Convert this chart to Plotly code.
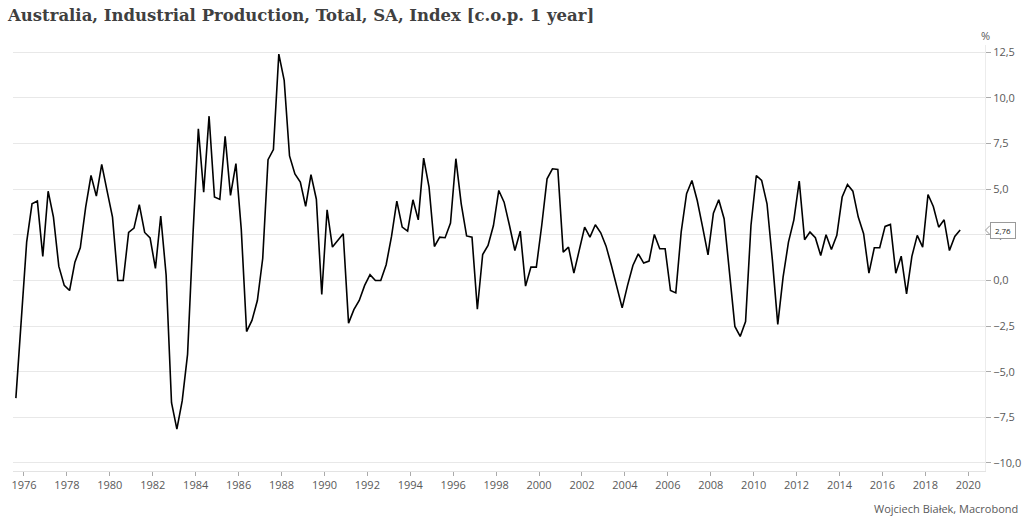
import pandas as pd
import plotly.graph_objects as go

# Quarterly series, first quarter 1975Q3, last 2019Q3 (y/y % change)
start_quarter = "1975Q3"
end_quarter = "2019Q3"

vals_1975_1984 = [-6.45, -2.2,
                  2.10, 4.20, 4.35, 1.32,
                  4.89, 3.47, 0.77, -0.27,
                  -0.55, 1.00, 1.79, 4.02,
                  5.75, 4.62, 6.36, 4.89,
                  3.47, 0.0, 0.0, 2.63,
                  2.87, 4.15, 2.63, 2.33,
                  0.66, 3.53, 0.3, -6.7,
                  -8.15, -6.6, -4.05, 2.5,
                  8.31, 4.84, 9.0, 4.57]
vals_1985_1994 = [4.44, 7.89, 4.66, 6.4,
                  2.8, -2.8, -2.19, -1.1,
                  1.2, 6.62, 7.17, 12.4,
                  10.96, 6.82, 5.84, 5.39,
                  4.06, 5.8, 4.45, -0.77,
                  3.87, 1.83, 2.19, 2.56,
                  -2.34, -1.6, -1.1, -0.27,
                  0.32, 0.0, 0.0, 0.86,
                  2.41, 4.35, 2.92, 2.70,
                  4.42, 3.32, 6.70, 5.11]
vals_1995_2004 = [1.86, 2.37, 2.34, 3.14,
                  6.67, 4.20, 2.44, 2.37,
                  -1.58, 1.42, 1.92, 3.01,
                  4.93, 4.29, 3.01, 1.64,
                  2.70, -0.31, 0.73, 0.73,
                  3.01, 5.57, 6.12, 6.08,
                  1.55, 1.83, 0.40, 1.64,
                  2.92, 2.37, 3.05, 2.61,
                  1.88, 0.82, -0.37, -1.50,
                  -0.27, 0.82, 1.46, 0.95]
vals_2005_2019 = [1.06, 2.52, 1.74, 1.74,
                  -0.55, -0.68, 2.65, 4.75,
                  5.48, 4.38, 2.92, 1.40,
                  3.69, 4.42, 3.38, 0.37,
                  -2.52, -3.07, -2.25, 3.01,
                  5.75, 5.48, 4.20, 1.1,
                  -2.41, 0.18, 2.10, 3.32,
                  5.44, 2.23, 2.65, 2.34,
                  1.37, 2.50, 1.70, 2.47,
                  4.57, 5.26, 4.89, 3.47,
                  2.56, 0.40, 1.79, 1.79,
                  2.96, 3.07, 0.40, 1.33,
                  -0.73, 1.32, 2.47, 1.83,
                  4.71, 4.05, 2.92, 3.32,
                  1.64, 2.41, 2.76]

values = vals_1975_1984 + vals_1985_1994 + vals_1995_2004 + vals_2005_2019
periods = pd.period_range(start_quarter, end_quarter, freq="Q")
dates = [p.start_time + (p.end_time - p.start_time) / 2 for p in periods]
assert len(dates) == len(values), (len(dates), len(values))

y_ticks = [-10.0, -7.5, -5.0, -2.5, 0.0, 2.5, 5.0, 7.5, 10.0, 12.5]
title_text = "Australia, Industrial Production, Total, SA, Index [c.o.p. 1 year]"
source_text = "Wojciech Białek, Macrobond"
unit_text = "%"
last_value = values[-1]

PLOT_W = 972.0
Y_RANGE = [-10.44, 12.9]
PX_PER_UNIT = 426.0 / (Y_RANGE[1] - Y_RANGE[0])

fig = go.Figure()
fig.add_trace(go.Scatter(x=dates, y=values, mode="lines",
                         line=dict(color="#000000", width=1.6),
                         hoverinfo="skip", showlegend=False))

fig.update_layout(
    width=1024, height=521,
    margin=dict(l=13, r=39, t=45, b=50, autoexpand=False),
    paper_bgcolor="white", plot_bgcolor="white",
    separators=", ",
    showlegend=False,
    xaxis=dict(
        type="date", automargin=False,
        range=["1975-06-28", "2020-10-12"],
        tick0="1976-01-01", dtick="M24", tickformat="%Y",
        showgrid=False, zeroline=False,
        showline=True, linecolor="#e3e3e3", linewidth=1,
        ticks="outside", ticklen=4, tickcolor="#aaaaaa", tickwidth=1,
        tickfont=dict(family="Open Sans", size=11, color="#595959"),
    ),
    yaxis=dict(
        side="right", automargin=False,
        range=Y_RANGE,
        tickvals=y_ticks, tickformat=".1f",
        showgrid=True, gridcolor="#e8e8e8", gridwidth=1,
        zeroline=False,
        showline=True, linecolor="#ececec", linewidth=1,
        ticks="outside", ticklen=5, tickcolor="#aaaaaa", tickwidth=1,
        tickfont=dict(family="Open Sans", size=11, color="#595959"),
    ),
)

fig.add_annotation(text="<b>" + title_text + "</b>", xref="paper", yref="paper",
                   x=-8/PLOT_W, y=1, yshift=30, xanchor="left", yanchor="middle",
                   showarrow=False,
                   font=dict(family="DejaVu Serif", size=16.5, color="#404040"))
fig.add_annotation(text=unit_text, xref="paper", yref="paper",
                   x=1, y=1, yshift=10, xanchor="center", yanchor="middle",
                   showarrow=False,
                   font=dict(family="Open Sans", size=11, color="#595959"))
fig.add_annotation(text=source_text, xref="paper", yref="paper",
                   x=1, xshift=35, y=0, yshift=-37, xanchor="right", yanchor="middle",
                   showarrow=False,
                   font=dict(family="Open Sans", size=11, color="#595959"))

# last-value callout: box with a "<" notch pointing at the axis
bx0 = 1 + 5 / PLOT_W
tip = 1 + 0.5 / PLOT_W
nh = 4.5 / PX_PER_UNIT
fig.add_shape(type="path",
              path=(f"M {bx0},{last_value + nh} L {tip},{last_value} "
                    f"L {bx0},{last_value - nh}"),
              xref="paper", yref="y",
              line=dict(color="#9a9a9a", width=1), layer="above")
fig.add_annotation(text=f"{last_value:.2f}".replace(".", ","), xref="paper", yref="y",
                   x=bx0, y=last_value, xanchor="left", yanchor="middle",
                   showarrow=False, bgcolor="white", bordercolor="#9a9a9a",
                   borderwidth=1, borderpad=0, width=24, height=15,
                   font=dict(family="Open Sans", size=8, color="#222222"))

fig.write_html("out.html", config={"displayModeBar": False},
               post_script="document.body.style.margin='0';")
